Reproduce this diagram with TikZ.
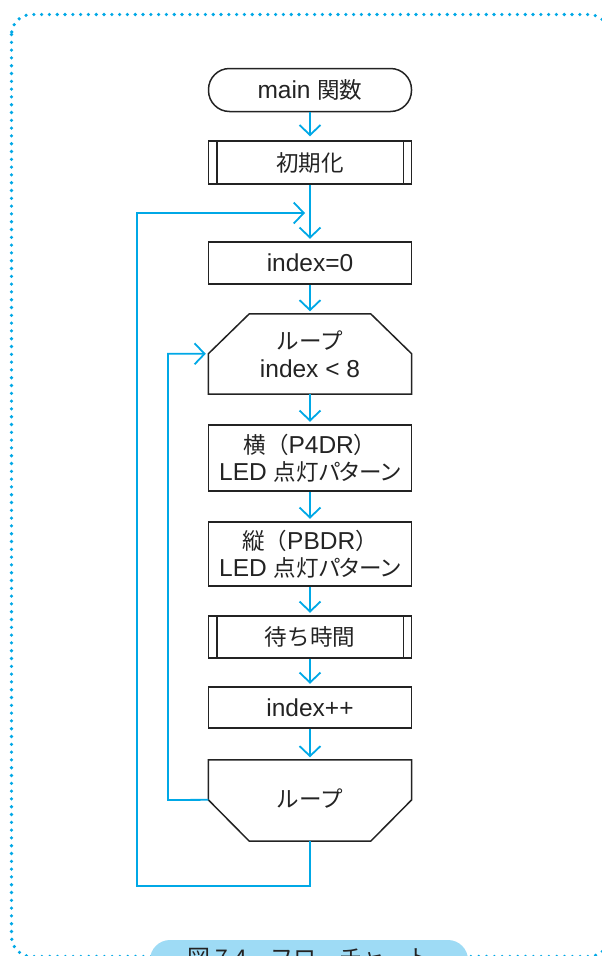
\documentclass[tikz,border=0pt]{standalone}
\usepackage{fontspec}
\setmainfont{Liberation Sans}
\newfontfamily\jp{Noto Sans CJK JP}[Scale=0.92]
\newfontfamily\jpp{Noto Sans CJK JP}[Scale=0.92, RawFeature=+palt]
\usetikzlibrary{arrows.meta,calc}
\definecolor{flow}{RGB}{0,168,230}
\definecolor{capfill}{RGB}{158,219,245}
\definecolor{ink}{RGB}{35,35,35}

\begin{document}
\begin{tikzpicture}[x=1pt,y=-1pt,
  every node/.style={text=ink, font=\fontsize{24.5}{27.5}\selectfont, align=center, inner sep=0pt},
  box/.style={draw=ink, line width=1.5pt, minimum width=203pt},
  termbox/.style={box, rounded corners=21pt, minimum height=43pt},
  procbox/.style={box, minimum height=#1},
  procbox/.default=42pt,
  shapeless/.style={minimum width=203pt, minimum height=#1},
  edgeline/.style={draw=ink, line width=1.5pt, line join=miter},
  flowline/.style={draw=flow, line width=1.8pt},
  flowarrow/.style={flowline, -{Straight Barb[length=10pt, width=21pt, line width=1.8pt]}, shorten >=2.5pt},
  border/.style={draw=flow, line width=3.6pt, dash pattern=on 0pt off 7.8pt, line cap=round, rounded corners=20pt}
]
\useasboundingbox (0,0) rectangle (602,956);
\clip (0,0) rectangle (602,956);

% outer dotted frame, its right side running just past the edge
\draw[border] (11.5,14.5) rectangle (609,956.5);

% flowchart nodes
\node[termbox] (main) at (310,90) {main {\jp 関数}};
\node[procbox=43pt] (init) at (310,162.5) {\jp 初期化};
\node[procbox] (idx0) at (310,263) {index=0};
\node[shapeless=80pt] (ls) at (310,354) {{\jp ループ}\\index < 8};
\node[procbox=66pt] (yoko) at (310,458) {{\jp 横（}P4DR{\jp ）}\\LED {\jpp 点灯パターン}};
\node[procbox=64pt] (tate) at (310,554) {{\jp 縦（}PBDR{\jp ）}\\LED {\jpp 点灯パターン}};
\node[procbox] (wait) at (310,637) {\jp 待ち時間};
\node[procbox=41pt] (inc) at (310,707.5) {index++};
\node[shapeless=81pt] (le) at (310,800.5) {\raisebox{4pt}{\jp ループ}};

% side bars of the predefined processes
\foreach \n in {init,wait}{
  \draw[edgeline] ([xshift=9pt]\n.north west) -- ([xshift=9pt]\n.south west);
  \draw[edgeline] ([xshift=-9pt]\n.north east) -- ([xshift=-9pt]\n.south east);
}

% loop start: top corners cut off
\coordinate (lsl) at ($(ls.north west)+(0,40)$);
\coordinate (lsr) at ($(ls.north east)+(0,40)$);
\draw[edgeline] (ls.south west) -- (lsl) -- ($(ls.north west)+(41,0)$)
  -- ($(ls.north east)+(-41,0)$) -- (lsr) -- (ls.south east) -- cycle;

% loop end: bottom corners cut off
\coordinate (lel) at ($(le.north west)+(0,40)$);
\coordinate (ler) at ($(le.north east)+(0,40)$);
\draw[edgeline] (le.north west) -- (le.north east) -- (ler)
  -- ($(le.south east)+(-41,0)$) -- ($(le.south west)+(41,0)$) -- (lel) -- cycle;

% main flow
\draw[flowarrow, shorten >=4pt] (main) -- (init);
\draw[flowarrow] (init) -- (idx0);
\draw[flowarrow] (idx0) -- (ls);
\draw[flowarrow] (ls) -- (yoko);
\draw[flowarrow] (yoko) -- (tate);
\draw[flowarrow] (tate) -- (wait);
\draw[flowarrow] (wait) -- (inc);
\draw[flowarrow] (inc) -- (le);

% inner loop return
\coordinate (inner) at (168,800);
\draw[flowarrow] (lel) -- (inner) |- (lsl);

% outer loop return
\coordinate (outer) at (137,886);
\coordinate (join) at (305,213);
\draw[flowarrow, shorten >=0pt] (le.south) |- (outer) |- (join);

% caption tab
\node[fill=capfill, rounded corners=20pt, minimum width=318pt, minimum height=36pt,
      font=\jp\fontsize{25}{28}\selectfont] (cap) at (309,958) {図 7.4　フローチャート};
\end{tikzpicture}
\end{document}
